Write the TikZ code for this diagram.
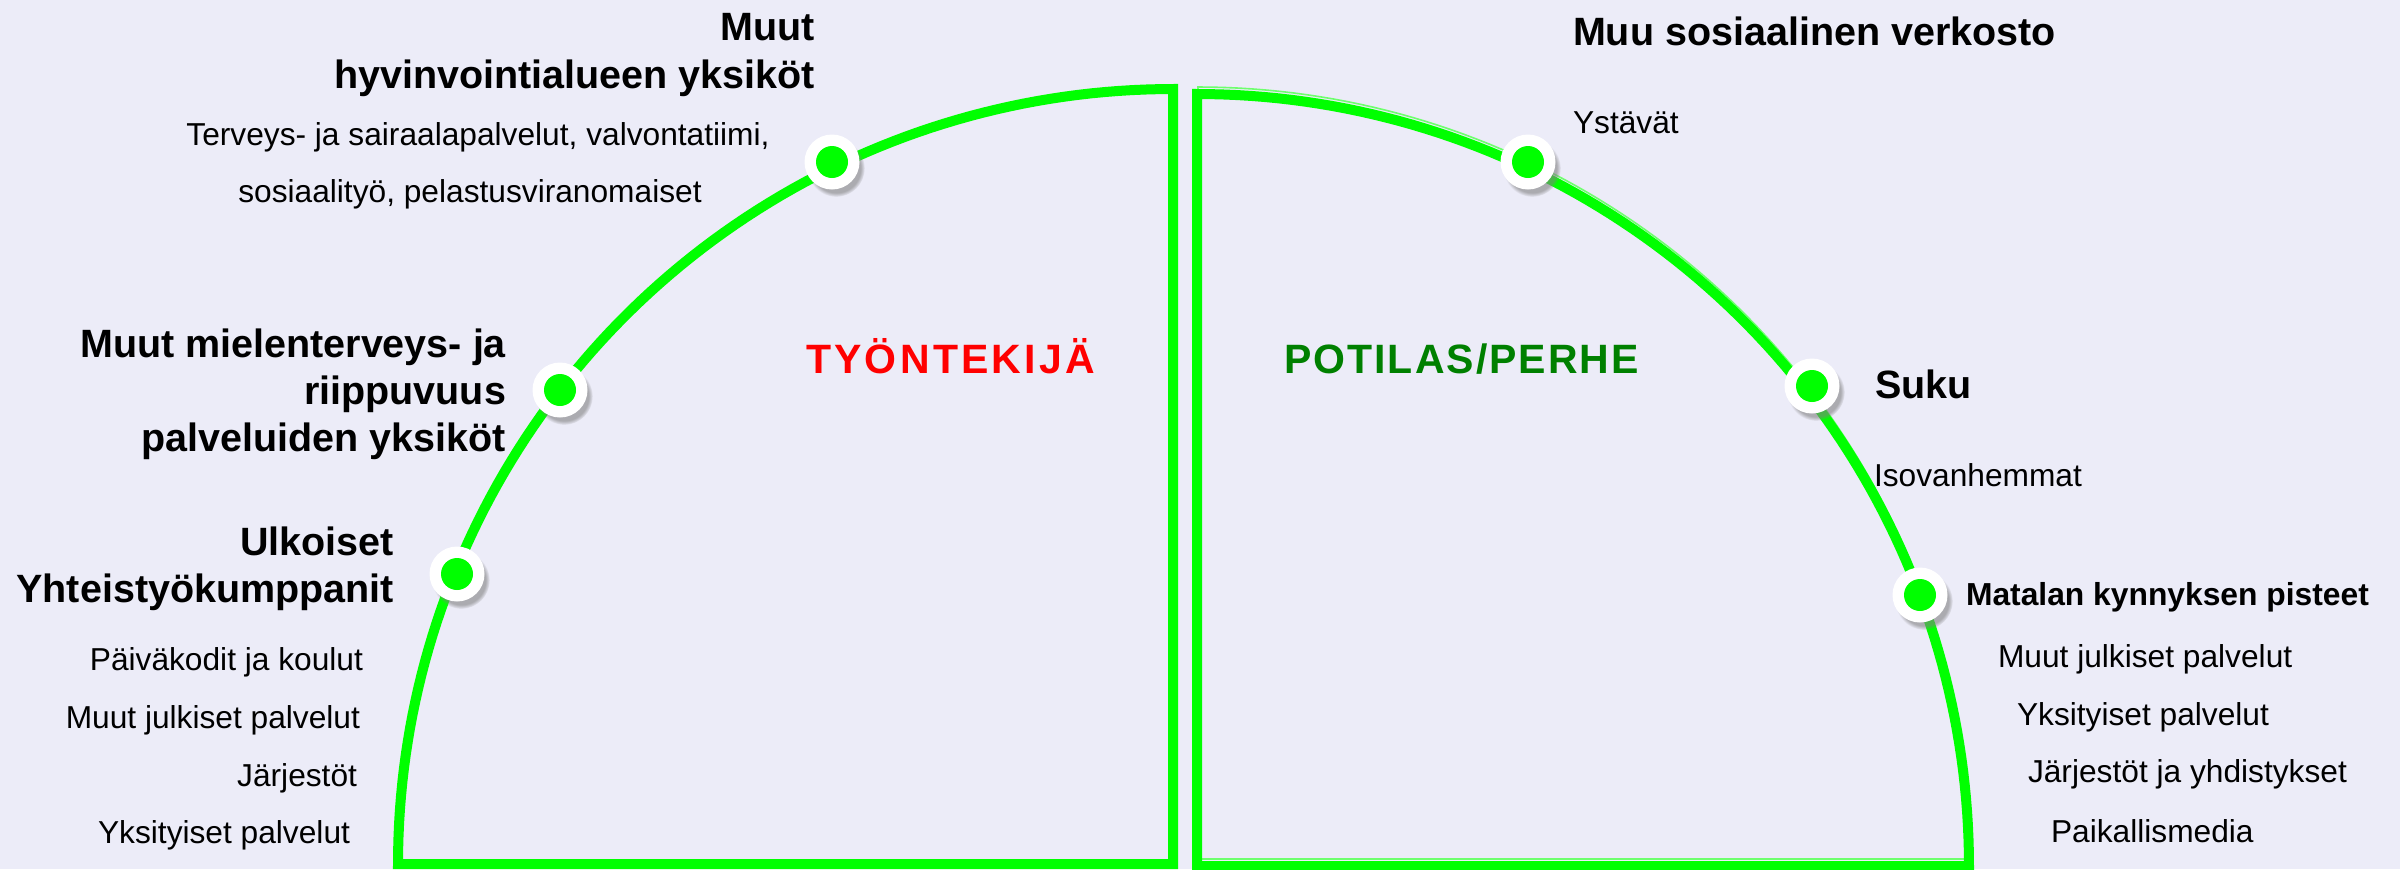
\documentclass[tikz,border=0pt]{standalone}
\usepackage{fontspec}
\setmainfont{Liberation Sans}
\newfontfamily\spacedA[LetterSpace=8]{Liberation Sans}
\newfontfamily\spacedB[LetterSpace=5]{Liberation Sans}
\usetikzlibrary{shadows,fadings}
\definecolor{bg}{RGB}{236,236,248}
\definecolor{ringgreen}{RGB}{0,255,0}
\definecolor{palegreen}{RGB}{110,255,110}
\definecolor{labelgreen}{RGB}{0,128,0}
\definecolor{labelred}{RGB}{255,0,0}
\tikzset{
  ring/.style={draw=ringgreen, line width=5pt, line join=miter},
  ringghost/.style={draw=palegreen, line width=0.8pt},
  dotouter/.style={circle, fill=white, minimum size=27.5pt, inner sep=0pt,
    circular drop shadow={shadow xshift=2pt, shadow yshift=-3pt, opacity=0.6, shadow scale=1.04}},
  dotinner/.style={circle, fill=ringgreen, minimum size=16pt, inner sep=0pt},
  head/.style={inner sep=0pt, outer sep=0pt, font=\fontsize{19.75pt}{23.75pt}\selectfont\bfseries},
  sub/.style={inner sep=0pt, outer sep=0pt, font=\fontsize{15.85pt}{19pt}\selectfont},
  subbold/.style={inner sep=0pt, outer sep=0pt, font=\fontsize{15.9pt}{19pt}\selectfont\bfseries},
  rolered/.style={inner sep=0pt, outer sep=0pt, text=labelred, font=\spacedA\fontsize{20.5pt}{24pt}\selectfont\bfseries},
  rolegreen/.style={inner sep=0pt, outer sep=0pt, text=labelgreen, font=\spacedB\fontsize{20.5pt}{24pt}\selectfont\bfseries},
}
\begin{document}
\begin{tikzpicture}[x=0.5pt, y=-0.5pt]
\useasboundingbox (0,0) rectangle (2400,869);
\fill[bg] (0,0) rectangle (2400,869);

% left quarter (worker)
\draw[ring] (1173,864) -- (1173,89)
  -- plot[domain=90:180, samples=90] ({1173+775*cos(\x)}, {864-775*sin(\x)}) -- cycle;

% right quarter (patient/family) with faint offset outline
\draw[ringghost] (1198,859) -- (1198,87)
  -- plot[domain=90:0, samples=90] ({1198+772*cos(\x)}, {859-772*sin(\x)}) -- cycle;
\draw[ring] (1197,866) -- (1197,94)
  -- plot[domain=90:0, samples=90] ({1197+772*cos(\x)}, {866-772*sin(\x)}) -- cycle;

% dots
\foreach \n/\px/\py in {d1/832/162, d2/560/390, d3/457/574, d4/1528/162, d5/1812/386, d6/1920/595}{
  \node[dotouter] (\n) at (\px,\py) {};
  \node[dotinner] (\n i) at (\n) {};
}

% centre labels
\node[rolered, anchor=base west] (worker) at (806,373) {TYÖNTEKIJÄ};
\node[rolegreen, anchor=base west] (patient) at (1284,373) {POTILAS/PERHE};

% left side texts
\node[head, anchor=base east] (h1a) at (815,40) {Muut};
\node[head, anchor=base east] (h1b) at (815,88) {hyvinvointialueen yksiköt};
\node[sub, anchor=base] (s1a) at (478,145) {Terveys- ja sairaalapalvelut, valvontatiimi,};
\node[sub, anchor=base] (s1b) at (470,202) {sosiaalityö, pelastusviranomaiset};

\node[head, anchor=base east] (h2a) at (506,357) {Muut mielenterveys- ja};
\node[head, anchor=base east] (h2b) at (506,404) {riippuvuus};
\node[head, anchor=base east] (h2c) at (506,451) {palveluiden yksiköt};

\node[head, anchor=base east] (h3a) at (394,555) {Ulkoiset};
\node[head, anchor=base east] (h3b) at (394,602) {Yhteistyökumppanit};
\node[sub, anchor=base east] (s3a) at (363,670) {Päiväkodit ja koulut};
\node[sub, anchor=base east] (s3b) at (360,728) {Muut julkiset palvelut};
\node[sub, anchor=base east] (s3c) at (357,786) {Järjestöt};
\node[sub, anchor=base east] (s3d) at (350,843) {Yksityiset palvelut};

% right side texts
\node[head, anchor=base west] (h4) at (1573,45) {Muu sosiaalinen verkosto};
\node[sub, anchor=base west] (s4) at (1573,133) {Ystävät};
\node[head, anchor=base west] (h5) at (1875,398) {Suku};
\node[sub, anchor=base west] (s5) at (1874,486) {Isovanhemmat};
\node[subbold, anchor=base west] (h6) at (1966,605) {Matalan kynnyksen pisteet};
\node[sub, anchor=base west] (s6a) at (1998,667) {Muut julkiset palvelut};
\node[sub, anchor=base west] (s6b) at (2017,725) {Yksityiset palvelut};
\node[sub, anchor=base west] (s6c) at (2028,782) {Järjestöt ja yhdistykset};
\node[sub, anchor=base west] (s6d) at (2051,842) {Paikallismedia};
\end{tikzpicture}
\end{document}
